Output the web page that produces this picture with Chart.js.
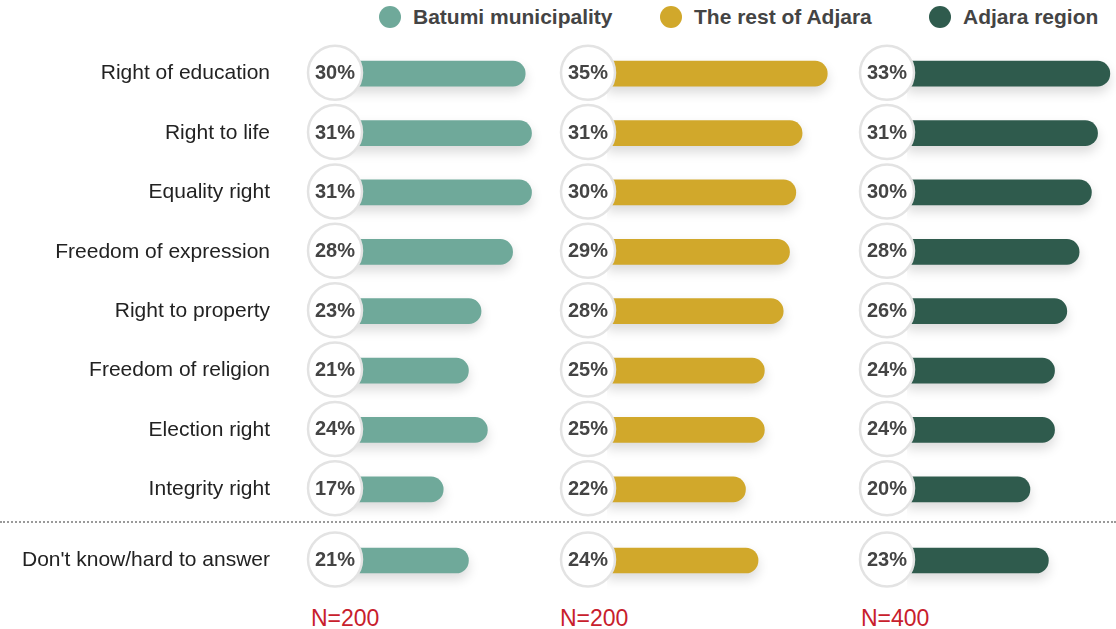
<!DOCTYPE html>
<html>
<head>
<meta charset="utf-8">
<script src="https://cdn.jsdelivr.net/npm/chart.js@4.4.1/dist/chart.umd.min.js"></script>
<style>
  body { margin: 0; background: #fff; width: 1116px; height: 629px; position: relative; overflow: hidden;
         font-family: "Liberation Sans", Arial, sans-serif; }
  canvas { position: absolute; }
  .leg { position: absolute; top: 5px; font-weight: bold; font-size: 21px; color: #444; white-space: nowrap; }
  .leg i { display: inline-block; width: 22px; height: 22px; border-radius: 50%; vertical-align: -4px; margin-right: 12px; }
  .sep { position: absolute; left: 0; width: 1116px; top: 521px; border-top: 2px dotted #9a9a9a; }
  .n { position: absolute; top: 605px; font-size: 23px; color: #c8202c; }
</style>
</head>
<body>
<div class="sep"></div>

<script>
// categories
const categories = ['Right of education', 'Right to life', 'Equality right', 'Freedom of expression',
  'Right to property', 'Freedom of religion', 'Election right', 'Integrity right'];
const extraCategory = ["Don't know/hard to answer"];

// series (percent)
const seriesNames = ['Batumi municipality', 'The rest of Adjara', 'Adjara region'];
const batumi = [30, 31, 31, 28, 23, 21, 24, 17];
const restAdjara = [35, 31, 30, 29, 28, 25, 25, 22];
const adjara = [33, 31, 30, 28, 26, 24, 24, 20];
const dontKnow = [21, 24, 23];
const sampleSizes = ['N=200', 'N=200', 'N=400'];

const colors = ['#6fa99a', '#d1a82b', '#2f5b4d'];

// panel placement (style only)
const panels = [
  { left: 0, width: 558, padLeft: 0, max: 35.2, circleOff: -1, labels: true },
  { left: 555, width: 305, padLeft: 52, max: 40.2, circleOff: -19, labels: false },
  { left: 855, width: 261, padLeft: 52, max: 34, circleOff: -20, labels: false }
];
const legendX = [379, 660, 929];
const nX = [311, 560, 861];

// legend + N labels
seriesNames.forEach((name, i) => {
  const d = document.createElement('div');
  d.className = 'leg';
  d.style.left = legendX[i] + 'px';
  d.innerHTML = '<i style="background:' + colors[i] + '"></i>' + name;
  document.body.appendChild(d);
  const n = document.createElement('div');
  n.className = 'n';
  n.style.left = nX[i] + 'px';
  n.textContent = sampleSizes[i];
  document.body.appendChild(n);
});

const shadowPlugin = {
  id: 'barShadow',
  beforeDatasetsDraw(chart) {
    const ctx = chart.ctx;
    ctx.save();
    ctx.shadowColor = 'rgba(0,0,0,0.15)';
    ctx.shadowBlur = 12;
    ctx.shadowOffsetY = 6;
  },
  afterDatasetsDraw(chart) {
    chart.ctx.restore();
  }
};

const circlePlugin = {
  id: 'pctCircles',
  afterDraw(chart, args, opts) {
    const ctx = chart.ctx;
    const meta = chart.getDatasetMeta(0);
    const x0 = chart.scales.x.getPixelForValue(0) + opts.offset;
    const vals = chart.data.datasets[0].data;
    meta.data.forEach((bar, i) => {
      const y = bar.y - 1;
      ctx.save();
      ctx.beginPath();
      ctx.arc(x0, y, 27, 0, Math.PI * 2);
      ctx.fillStyle = '#fff';
      ctx.fill();
      ctx.lineWidth = 2.5;
      ctx.strokeStyle = '#e3e3e3';
      ctx.stroke();
      ctx.fillStyle = '#444';
      ctx.font = 'bold 20px "Liberation Sans", Arial, sans-serif';
      ctx.textAlign = 'center';
      ctx.textBaseline = 'middle';
      ctx.fillText(vals[i] + '%', x0, y + 1);
      ctx.restore();
    });
  }
};

function makeChart(p, top, height, labels, values, color) {
  const cv = document.createElement('canvas');
  cv.width = p.width;
  cv.height = height;
  cv.style.left = p.left + 'px';
  cv.style.top = top + 'px';
  document.body.appendChild(cv);
  new Chart(cv, {
    type: 'bar',
    data: {
      labels: labels,
      datasets: [{
        data: values,
        backgroundColor: color,
        barThickness: 25,
        borderRadius: 13,
        borderSkipped: 'start'
      }]
    },
    options: {
      indexAxis: 'y',
      responsive: false,
      animation: false,
      layout: { padding: { left: p.padLeft, right: 0, top: 0, bottom: 0 } },
      plugins: {
        legend: { display: false },
        tooltip: { enabled: false },
        pctCircles: { offset: p.circleOff }
      },
      scales: {
        x: { display: false, min: 0, max: p.max },
        y: {
          display: p.labels,
          grid: { display: false, drawTicks: false },
          border: { display: false },
          ticks: {
            padding: 66,
            color: '#222',
            font: { family: '"Liberation Sans", Arial, sans-serif', size: 21 }
          },
          afterFit(scale) {
            if (p.labels) {
              scale.width = 336;
              scale.paddingTop = 0;
              scale.paddingBottom = 0;
            }
          }
        }
      }
    },
    plugins: [shadowPlugin, circlePlugin]
  });
}

const seriesValues = [batumi, restAdjara, adjara];
panels.forEach((p, i) => {
  makeChart(p, 44, 475, categories, seriesValues[i], colors[i]);
  makeChart(p, 531, 59, extraCategory, [dontKnow[i]], colors[i]);
});
</script>
</body>
</html>
